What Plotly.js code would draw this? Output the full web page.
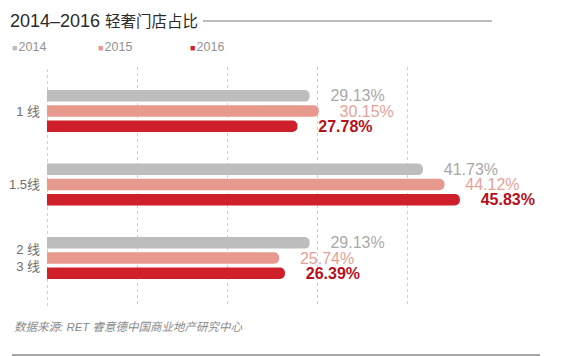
<!DOCTYPE html>
<html>
<head>
<meta charset="utf-8">
<script src="https://cdn.plot.ly/plotly-3.0.1.min.js"></script>
<style>
html,body{margin:0;padding:0;background:#fff;}
#chart{width:563px;height:356px;}
</style>
</head>
<body>
<div id="chart"></div>
<script>
// ---- data ----
var categories = ['1 线', '1.5线', '2 线<br>3 线'];
var seriesNames = ['2014', '2015', '2016'];
var values2014 = [29.13, 41.73, 29.13];
var values2015 = [30.15, 44.12, 25.74];
var values2016 = [27.78, 45.83, 26.39];
var gridTicks = [0, 10, 20, 30, 40];

var titleNum = '2014–2016';
var titleCJK = '轻奢门店占比';
var sourceText = '数据来源: RET 睿意德中国商业地产研究中心';

// ---- styles ----
var barColors = ['#bdbdbd', '#e8998d', '#cf1f2a'];
var textColors = ['#a9a9a9', '#e5a197', '#b5101c'];
var textWeights = [400, 400, 700];
var FONT = '"Liberation Sans", Arial, "Noto Sans CJK SC", sans-serif';
var PAD = 1.2; // hidden part of the bar behind the left edge (square left end)

var L = 47, R = 23, T = 67, B = 50, W = 563, H = 356;
var PW = W - L - R, PH = H - T - B;
function px(x) { return (x - L) / PW; }
function py(y) { return (H - B - y) / PH; }

var allValues = [values2014, values2015, values2016];
var traces = allValues.map(function (vals, i) {
  return {
    type: 'bar',
    orientation: 'h',
    name: seriesNames[i],
    y: categories,
    x: vals.map(function (v) { return v + PAD; }),
    base: -PAD,
    customdata: vals,
    texttemplate: '\u00a0\u00a0\u00a0\u00a0%{customdata:.2f}%',
    textposition: 'outside',
    constraintext: 'none',
    cliponaxis: true,
    outsidetextfont: {family: FONT, size: 16, color: textColors[i], weight: textWeights[i]},
    marker: {color: barColors[i], cornerradius: 6, line: {width: 0}},
    hoverinfo: 'skip',
    showlegend: false
  };
});

// legend built as annotations
var legendX = [10, 96, 188];
var annotations = seriesNames.map(function (n, i) {
  return {
    xref: 'paper', yref: 'paper',
    x: px(legendX[i]), y: py(47),
    xanchor: 'left', yanchor: 'middle',
    showarrow: false,
    text: '<span style="color:' + barColors[i] + ';font-size:9px">■</span><span style="font-size:4px"> </span>' + n,
    font: {family: FONT, size: 12.5, color: '#939393'}
  };
});
annotations.push({
  xref: 'paper', yref: 'paper',
  x: px(8), y: py(21),
  xanchor: 'left', yanchor: 'middle', showarrow: false,
  text: titleNum,
  font: {family: FONT, size: 18, color: '#2b2b2b'}
});
annotations.push({
  xref: 'paper', yref: 'paper',
  x: px(103), y: py(21),
  xanchor: 'left', yanchor: 'middle', showarrow: false,
  text: titleCJK,
  font: {family: FONT, size: 15.5, color: '#2b2b2b'}
});
annotations.push({
  xref: 'paper', yref: 'paper',
  x: px(12), y: py(327),
  xanchor: 'left', yanchor: 'middle', showarrow: false,
  text: '<i>' + sourceText + '</i>',
  font: {family: FONT, size: 11.5, color: '#8a8a8a'}
});

var shapes = [
  {type: 'line', xref: 'paper', yref: 'paper',
   x0: px(203), x1: px(492), y0: py(21), y1: py(21),
   line: {color: '#7a7a7a', width: 1.2}},
  {type: 'line', xref: 'paper', yref: 'paper',
   x0: px(12), x1: px(540), y0: py(355), y1: py(355),
   line: {color: '#8a8a8a', width: 1.5}},
  {type: 'line', xref: 'x', yref: 'paper', layer: 'below',
   x0: gridTicks[0], x1: gridTicks[0], y0: 0, y1: 1,
   line: {color: '#cfcfcf', width: 1, dash: 'dot'}}
];

var layout = {
  width: W, height: H,
  margin: {l: L, r: R, t: T, b: B, pad: 0},
  paper_bgcolor: '#ffffff', plot_bgcolor: '#ffffff',
  showlegend: false,
  barmode: 'group',
  bargap: 0.38,
  bargroupgap: 0.24,
  xaxis: {
    range: [-0.05, 54.73],
    tickvals: gridTicks,
    showticklabels: false,
    showgrid: true, gridcolor: '#cfcfcf', griddash: 'dot', gridwidth: 1,
    zeroline: false, showline: false, ticks: '', fixedrange: true
  },
  yaxis: {
    type: 'category',
    range: [2.653, -0.599],
    showgrid: false, zeroline: false, showline: false, ticks: '',
    ticklabelstandoff: 6,
    tickfont: {family: FONT, size: 13, color: '#6e6e6e'},
    fixedrange: true
  },
  annotations: annotations,
  shapes: shapes
};

Plotly.newPlot('chart', traces, layout, {displayModeBar: false, staticPlot: true});
</script>
</body>
</html>
